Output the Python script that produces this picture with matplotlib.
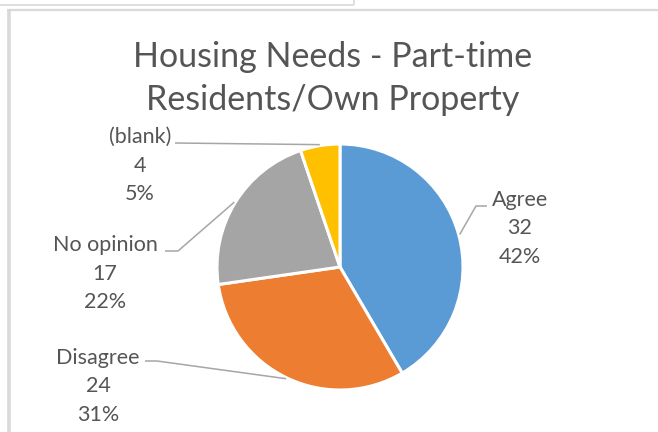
import numpy as np
import matplotlib
matplotlib.use("Agg")
import matplotlib.pyplot as plt
from matplotlib.lines import Line2D

# Survey responses
categories = ["Agree", "Disagree", "No opinion", "(blank)"]
counts = [32, 24, 17, 4]
colors = ["#5B9BD5", "#ED7D31", "#A5A5A5", "#FFC000"]

W, H = 658, 432
fig = plt.figure(figsize=(W / 100, H / 100), dpi=100)
ax = fig.add_axes([0, 0, 1, 1])

FONT = "Lato"
TXT = "#555555"

def py(y):
    """Convert a top-down pixel row into the axes' bottom-up y."""
    return H - y

cx, cy, r = 340, py(267), 123
wedges, _ = ax.pie(counts, colors=colors, startangle=90, counterclock=False,
                   center=(cx, cy), radius=r, frame=True,
                   wedgeprops=dict(edgecolor="white", linewidth=2.2))
ax.set_xlim(0, W)
ax.set_ylim(0, H)
ax.axis("off")

total = sum(counts)
# label block centres (first line) and elbow/anchor points for leader lines
label_pos = {
    "Agree": (520, 200),
    "Disagree": (98, 358),
    "No opinion": (105, 245),
    "(blank)": (140, 137),
}
leader = {
    "Agree": [(476, 206), (487, 206)],
    "Disagree": [(157, 361), (145, 361)],
    "No opinion": [(178, 251), (165, 251)],
    "(blank)": [(175, 143)],
}

for w, cat, n in zip(wedges, categories, counts):
    mid = np.deg2rad((w.theta1 + w.theta2) / 2)
    ex, ey = cx + (r + 1) * np.cos(mid), cy + (r + 1) * np.sin(mid)
    pts = [(ex, ey)] + [(x, py(y)) for x, y in leader[cat]]
    ax.plot([p[0] for p in pts], [p[1] for p in pts], color="#A6A6A6",
            lw=1.1, solid_capstyle="butt", zorder=1)
    lx, ly = label_pos[cat]
    lines = [cat, f"{n}", f"{round(100 * n / total)}%"]
    for k, s in enumerate(lines):
        ax.text(lx, py(ly + 28.5 * k), s, ha="center", va="center",
                fontsize=15.5, color=TXT, family=FONT)

ax.text(333, py(57), "Housing Needs - Part-time", ha="center", va="center",
        fontsize=24.5, color=TXT, family=FONT)
ax.text(333, py(100), "Residents/Own Property", ha="center", va="center",
        fontsize=24.5, color=TXT, family=FONT)

# frame lines around the chart area
def fline(xs, ys, lw):
    fig.add_artist(Line2D([x / W for x in xs], [1 - y / H for y in ys],
                          transform=fig.transFigure, color="#D9D9D9", lw=lw,
                          solid_capstyle="butt"))

fline([0, 354], [4.5, 4.5], 1.2)
fline([354, 354], [0, 5], 1.2)
fline([7, W], [10, 10], 1.6)
fline([8.5, 8.5], [9, H], 2.6)

fig.savefig("out.png", dpi=100)
